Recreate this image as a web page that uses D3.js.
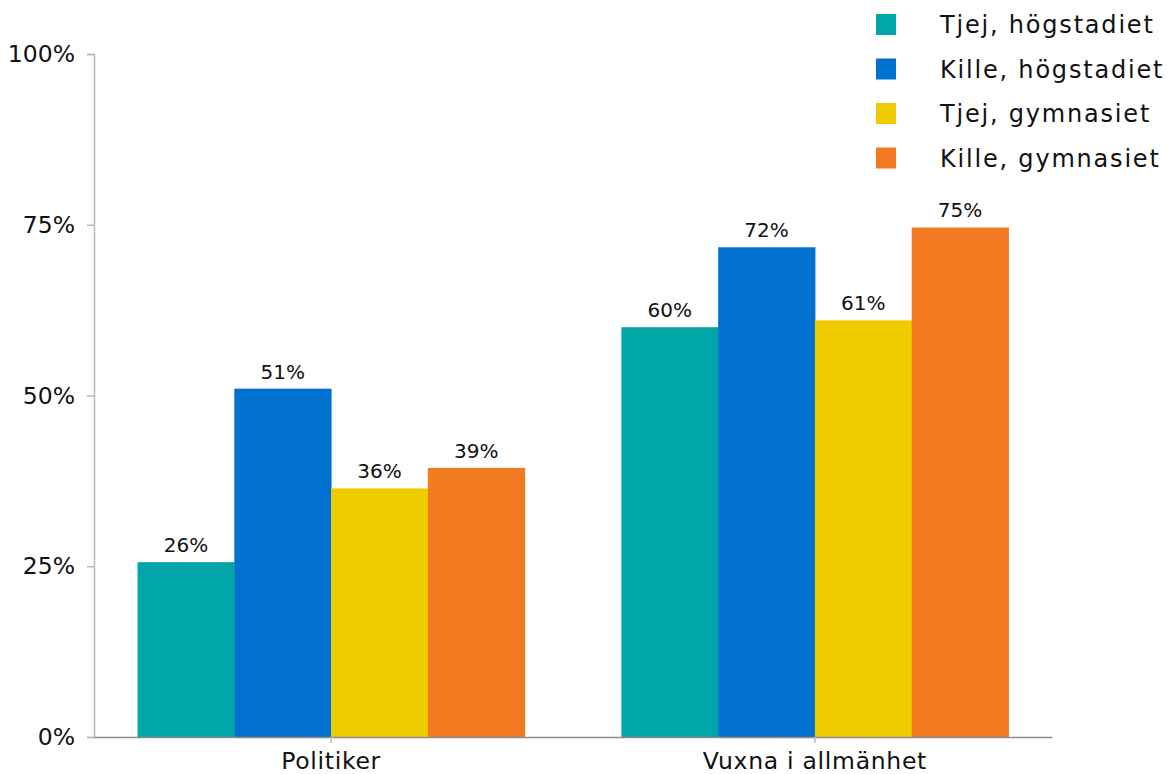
<!DOCTYPE html>
<html><head><meta charset="utf-8">
<script src="https://cdn.jsdelivr.net/npm/d3@7"></script>
<style>body{margin:0;background:#fff}svg{display:block}text{font-family:"DejaVu Sans",sans-serif;fill:#111}</style>
</head><body><svg id="c" width="1170" height="774"></svg>
<script>
const categories = ["Politiker", "Vuxna i allmänhet"];
const seriesNames = ["Tjej, högstadiet", "Kille, högstadiet", "Tjej, gymnasiet", "Kille, gymnasiet"];
const tjejHog = [25.6, 60.0];
const killeHog = [51.0, 71.7];
const tjejGym = [36.4, 61.0];
const killeGym = [39.4, 74.6];
const valueLabels = [["26%", "60%"], ["51%", "72%"], ["36%", "61%"], ["39%", "75%"]];
const yTicks = [0, 25, 50, 75, 100];
const colors = ["#00A6A8", "#0071CE", "#EECC00", "#F27A21"];

const series = [tjejHog, killeHog, tjejGym, killeGym];
const svg = d3.select("#c");
const x0 = d3.scaleBand().domain(categories).range([94, 1052]).paddingInner(0.2).paddingOuter(0.09);
const x1 = d3.scaleBand().domain(seriesNames).range([0, x0.bandwidth()]);
const y = d3.scaleLinear().domain([0, 100]).range([737, 54]);

series.forEach((vals, si) => {
  svg.append("g").selectAll("rect").data(vals).join("rect")
    .attr("x", (d, i) => x0(categories[i]) + x1(seriesNames[si]))
    .attr("y", d => y(d))
    .attr("width", x1.bandwidth() + 0.5)
    .attr("height", d => y(0) - y(d))
    .attr("fill", colors[si]);
  svg.append("g").selectAll("text").data(vals).join("text")
    .attr("x", (d, i) => x0(categories[i]) + x1(seriesNames[si]) + x1.bandwidth() / 2)
    .attr("y", d => y(d) - 10)
    .attr("text-anchor", "middle")
    .attr("font-size", 20)
    .text((d, i) => valueLabels[si][i]);
});

const ya = svg.append("g").attr("transform", "translate(94,0)")
  .call(d3.axisLeft(y).tickValues(yTicks).tickFormat(d => d + "%").tickSize(7).tickPadding(12));
ya.select(".domain").attr("stroke", "#b8b8b8").attr("stroke-width", 1.5);
ya.selectAll(".tick line").attr("stroke", "#b8b8b8").attr("stroke-width", 1.5);
ya.selectAll("text").attr("font-size", 23.5).attr("font-family", "DejaVu Sans").attr("fill", "#111");

const xa = svg.append("g").attr("transform", "translate(0,737)")
  .call(d3.axisBottom(x0).tickSize(6).tickPadding(9).tickSizeOuter(0));
xa.select(".domain").attr("stroke", "#8c8c8c").attr("stroke-width", 1.5);
xa.selectAll(".tick line").attr("stroke", "#b8b8b8").attr("stroke-width", 1.5);
xa.selectAll("text").attr("font-size", 23.5).attr("font-family", "DejaVu Sans")
  .attr("letter-spacing", 0.7).attr("fill", "#111");

const lg = svg.append("g");
seriesNames.forEach((s, i) => {
  const cy = 24.5 + i * 44.5;
  lg.append("rect").attr("x", 876).attr("y", cy - 10.5).attr("width", 20).attr("height", 21).attr("fill", colors[i]);
  lg.append("text").attr("x", 940).attr("y", cy).attr("dy", "0.36em")
    .attr("font-size", 24).attr("letter-spacing", 1.8).text(s);
});
</script></body></html>
